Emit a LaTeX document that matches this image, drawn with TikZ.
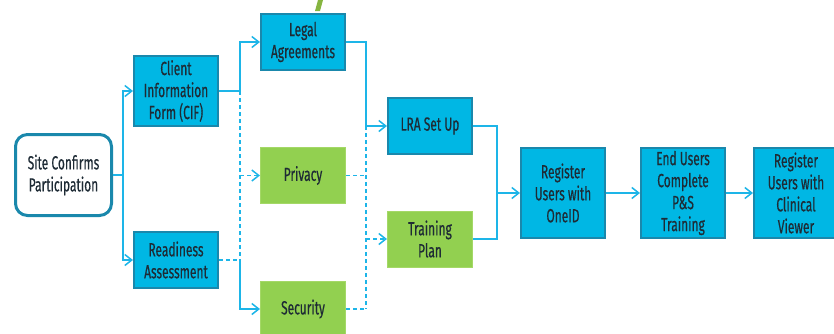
\documentclass[tikz,border=0pt]{standalone}
\usepackage{fontspec}
\setmainfont{Fira Sans}[FakeStretch=0.63,FakeBold=0.5]
\usetikzlibrary{arrows.meta}
\definecolor{boxblue}{HTML}{00B7E4}
\definecolor{boxedge}{HTML}{1A88AC}
\definecolor{boxgreen}{HTML}{92D050}
\definecolor{greenedge}{HTML}{A4D867}
\definecolor{linkblue}{HTML}{1DB5E8}
\definecolor{textdark}{HTML}{1E2B35}
\definecolor{titlegreen}{HTML}{86B540}
\begin{document}
\begin{tikzpicture}[x=1pt,y=-1pt,
    every node/.style={font=\fontsize{19}{22}\selectfont,text=textdark,align=center,inner sep=0pt},
    startbox/.style={draw=boxedge,line width=3pt,fill=white,rounded corners=12pt,minimum width=96pt,minimum height=81pt},
    bluebox/.style={draw=boxedge,line width=2.4pt,fill=boxblue,minimum width=83.6pt,minimum height=55.6pt},
    greenbox/.style={draw=greenedge,line width=1pt,fill=boxgreen,minimum width=85pt,minimum height=56pt},
    link/.style={draw=linkblue,line width=1.5pt},
    dashlink/.style={link,dash pattern=on 4pt off 3pt},
    tip/.style={-{Straight Barb[length=7pt,width=11pt,line width=1.5pt]}}]
  \useasboundingbox (0,0) rectangle (834,333);
  \clip (0,0) rectangle (834,333);
  \fill[titlegreen] (318,0) -- (323,0) -- (320,11) -- (315,11) -- cycle;
  \node[startbox] (site) at (63.5,175) {Site Confirms\\Participation};
  \node[bluebox,minimum height=69.6pt] (cif) at (176,91) {Client\\Information\\Form (CIF)};
  \node[bluebox] (ra) at (176,260) {Readiness\\Assessment};
  \node[bluebox] (legal) at (303,42) {Legal\\Agreements};
  \node[greenbox] (priv) at (303,175.5) {Privacy};
  \node[greenbox] (sec) at (303,309) {Security};
  \node[bluebox] (lra) at (430,126) {LRA Set Up};
  \node[greenbox] (train) at (430,239) {Training\\Plan};
  \node[bluebox,minimum height=89.6pt] (oneid) at (563,193) {Register\\Users with\\OneID};
  \node[bluebox,minimum height=89.6pt] (endu) at (683,193) {End Users\\Complete\\P\&S\\Training};
  \node[bluebox,minimum height=89.6pt] (clin) at (796,193) {Register\\Users with\\Clinical\\Viewer};
  \coordinate (js) at (123,175);
  \coordinate (ja) at (240,91);
  \coordinate (jb) at (240,260);
  \coordinate (jc) at (366,126);
  \coordinate (jd) at (366,309);
  \coordinate (je) at (497,193);
  \begin{scope}[link]
    \draw (site.east) -- (js);
    \draw[tip] (js) |- (cif.west);
    \draw[tip] (js) |- (ra.west);
    \draw[tip] (cif.east) -- (ja) |- (legal.west);
    \draw[dashlink] (ja) -- (jb);
    \draw[dashlink,tip] (ja |- priv.west) -- (priv.west);
    \draw[dashlink] (ra.east) -- (jb);
    \draw[tip] (jb) |- (sec.west);
    \draw[tip] (legal.east) -| (jc) -- (lra.west);
    \draw[dashlink] (jc) -- (jd);
    \draw[dashlink] (priv.east) -- (priv.east -| jc);
    \draw[dashlink] (sec.east) -- (jd);
    \draw[dashlink,tip] (jc |- train.west) -- (train.west);
    \draw (lra.east) -| (je);
    \draw (train.east) -| (je);
    \draw[tip] (je) -- (oneid.west);
    \draw[tip] (oneid) -- (endu);
    \draw[tip] (endu) -- (clin);
  \end{scope}
\end{tikzpicture}
\end{document}
